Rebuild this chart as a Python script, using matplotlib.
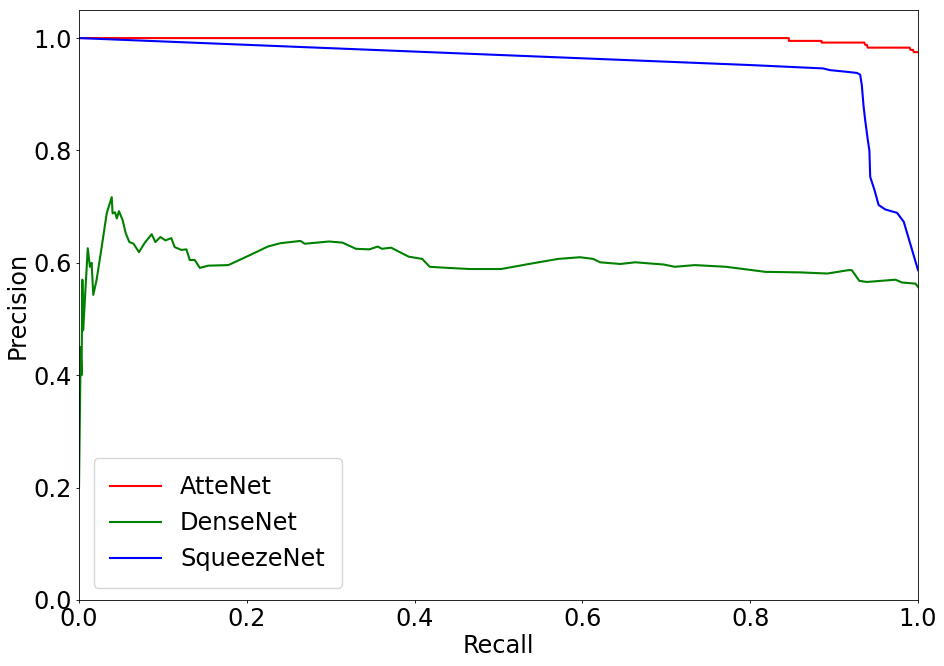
import matplotlib
matplotlib.use("Agg")
import matplotlib.pyplot as plt

# Curvas precision-recall
recall_atte = [0.0, 0.846, 0.846, 0.885, 0.885, 0.936, 0.937, 0.939, 0.940, 0.990, 0.991, 0.994, 0.995, 1.0]
prec_atte = [1.0, 1.0, 0.995, 0.995, 0.992, 0.992, 0.988, 0.988, 0.983, 0.983, 0.979, 0.979, 0.975, 0.975]

recall_dense = [0.0, 0.002, 0.003, 0.004, 0.005, 0.0104, 0.013, 0.015, 0.017, 0.021,
                0.027, 0.033, 0.039, 0.040, 0.043, 0.045, 0.0476, 0.052, 0.0556, 0.060,
                0.065, 0.0715, 0.078, 0.0866, 0.091, 0.097, 0.103, 0.110, 0.114, 0.122,
                0.128, 0.132, 0.138, 0.144, 0.154, 0.178, 0.204, 0.225, 0.240, 0.264,
                0.269, 0.298, 0.314, 0.330, 0.346, 0.356, 0.361, 0.372, 0.385, 0.393,
                0.409, 0.418, 0.440, 0.466, 0.503, 0.540, 0.571, 0.597, 0.613, 0.621,
                0.645, 0.663, 0.697, 0.710, 0.734, 0.771, 0.792, 0.818, 0.860, 0.892,
                0.917, 0.921, 0.930, 0.939, 0.973, 0.981, 0.997, 1.0]
prec_dense = [0.2, 0.45, 0.40, 0.57, 0.48, 0.626, 0.593, 0.60, 0.543, 0.57,
              0.628, 0.688, 0.717, 0.688, 0.69, 0.679, 0.692, 0.676, 0.653, 0.637,
              0.634, 0.619, 0.635, 0.651, 0.637, 0.646, 0.64, 0.644, 0.628, 0.623,
              0.624, 0.605, 0.605, 0.591, 0.595, 0.596, 0.614, 0.629, 0.635, 0.639,
              0.634, 0.638, 0.636, 0.625, 0.624, 0.629, 0.625, 0.627, 0.617, 0.611,
              0.607, 0.593, 0.591, 0.589, 0.589, 0.599, 0.607, 0.610, 0.607, 0.601,
              0.598, 0.601, 0.597, 0.593, 0.596, 0.593, 0.589, 0.584, 0.583, 0.581,
              0.587, 0.587, 0.568, 0.566, 0.570, 0.565, 0.563, 0.557]

recall_squeeze = [0.0, 0.8, 0.887, 0.895, 0.915, 0.927, 0.931, 0.933, 0.935, 0.937,
                  0.940, 0.942, 0.943, 0.948, 0.953, 0.961, 0.975, 0.983, 1.0]
prec_squeeze = [1.0, 0.952, 0.946, 0.943, 0.940, 0.938, 0.935, 0.916, 0.88, 0.854,
                0.82, 0.80, 0.753, 0.730, 0.703, 0.695, 0.689, 0.673, 0.587]

fs = 17.3
plt.rcParams["font.size"] = fs

fig = plt.figure(figsize=(9.44, 6.66), dpi=100)
ax = fig.add_axes([0.0837, 0.0991, 0.8888, 0.8859])

ax.plot(recall_atte, prec_atte, color="red", lw=1.5, label="AtteNet")
ax.plot(recall_dense, prec_dense, color="green", lw=1.5, label="DenseNet")
ax.plot(recall_squeeze, prec_squeeze, color="blue", lw=1.5, label="SqueezeNet")

ax.set_xlim(0, 1)
ax.set_ylim(0, 1.05)
ax.set_xlabel("Recall", fontsize=fs, labelpad=2)
ax.set_ylabel("Precision", fontsize=fs, labelpad=3)
ax.tick_params(labelsize=fs, length=2.5, width=0.6, pad=2.5)
for s in ax.spines.values():
    s.set_linewidth(0.6)

ax.legend(loc="lower left", fontsize=fs, borderpad=0.7, handlelength=2.1,
          bbox_to_anchor=(0.003, 0.0))

fig.savefig("out.png", dpi=100)
